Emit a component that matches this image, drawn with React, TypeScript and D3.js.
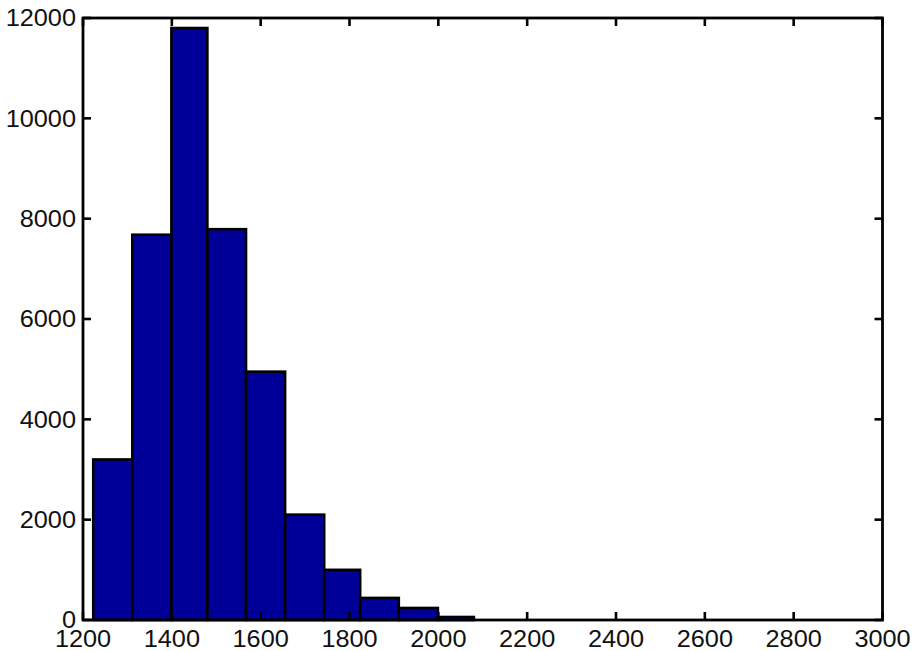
import React from "react";
import * as d3 from "d3";

const binEdges = [1223, 1311, 1399, 1480, 1567, 1655, 1743, 1824, 1911, 1999, 2080];
const counts = [3200, 7680, 11800, 7790, 4950, 2100, 1000, 440, 240, 60];
const xTicks = [1200, 1400, 1600, 1800, 2000, 2200, 2400, 2600, 2800, 3000];
const yTicks = [0, 2000, 4000, 6000, 8000, 10000, 12000];

const W = 912, H = 651;
const L = 83, R = 882.5, T = 18, B = 620;

export default function App() {
  const x = d3.scaleLinear().domain([1200, 3000]).range([L, R]);
  const y = d3.scaleLinear().domain([0, 12000]).range([B, T]);
  const tick = 8;
  const font = "'Liberation Sans', Arial, sans-serif";
  return (
    <svg width={W} height={H} style={{ position: "absolute", left: 0, top: 0, background: "#fff" }}>
      {counts.map((c, i) => (
        <rect key={i} x={x(binEdges[i])} y={y(c)} width={x(binEdges[i + 1]) - x(binEdges[i])} height={y(0) - y(c)}
          fill="#000099" stroke="#000" strokeWidth={2.6} />
      ))}
      <rect x={L} y={T} width={R - L} height={B - T} fill="none" stroke="#000" strokeWidth={2.8} />
      {xTicks.map((t) => (
        <g key={t}>
          <line x1={x(t)} x2={x(t)} y1={B} y2={B - tick} stroke="#000" strokeWidth={2.6} />
          <line x1={x(t)} x2={x(t)} y1={T} y2={T + tick} stroke="#000" strokeWidth={2.6} />
          <text transform={`translate(${x(t)},647) scale(1.1,1)`} textAnchor="middle" fontFamily={font} fontSize={23} fill="#111">{t}</text>
        </g>
      ))}
      {yTicks.map((t) => (
        <g key={t}>
          <line x1={L} x2={L + tick} y1={y(t)} y2={y(t)} stroke="#000" strokeWidth={2.6} />
          <line x1={R} x2={R - tick} y1={y(t)} y2={y(t)} stroke="#000" strokeWidth={2.6} />
          <text transform={`translate(76,${y(t)}) scale(1.1,1)`} dy="0.36em" textAnchor="end" fontFamily={font} fontSize={23} fill="#111">{t}</text>
        </g>
      ))}
    </svg>
  );
}
